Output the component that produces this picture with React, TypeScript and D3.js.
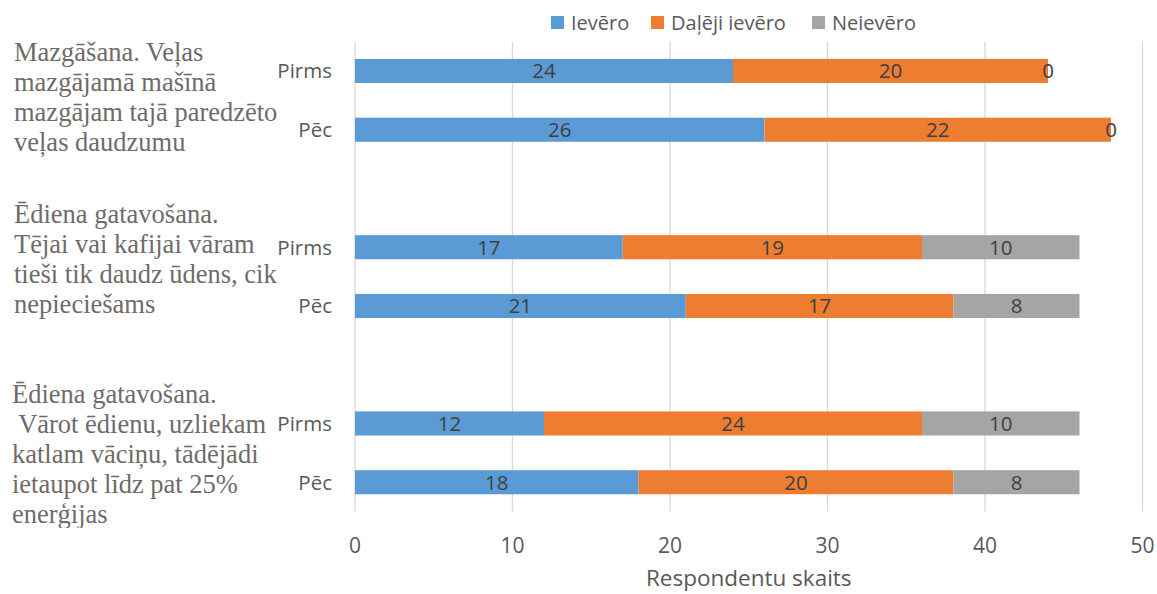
import React from "react";
import * as d3 from "d3";

const categories = ["g1-Pirms", "g1-Pēc", "gap1", "g2-Pirms", "g2-Pēc", "gap2", "g3-Pirms", "g3-Pēc"];
const stageLabels = ["Pirms", "Pēc", "", "Pirms", "Pēc", "", "Pirms", "Pēc"];
const barRows = ["g1-Pirms", "g1-Pēc", "g2-Pirms", "g2-Pēc", "g3-Pirms", "g3-Pēc"];
const ievero = [24, 26, 17, 21, 12, 18];
const dalejiIevero = [20, 22, 19, 17, 24, 20];
const neievero = [0, 0, 10, 8, 10, 8];
const seriesNames = ["Ievēro", "Daļēji ievēro", "Neievēro"];
const xTicks = [0, 10, 20, 30, 40, 50];
const group1Lines = ["Mazgāšana. Veļas", "mazgājamā mašīnā", "mazgājam tajā paredzēto", "veļas daudzumu"];
const group2Lines = ["Ēdiena gatavošana.", "Tējai vai kafijai vāram", "tieši tik daudz ūdens, cik", "nepieciešams"];
const group3Lines = ["Ēdiena gatavošana.", " Vārot ēdienu, uzliekam", "katlam vāciņu, tādējādi", "ietaupot līdz pat 25%", "enerģijas"];
const axisTitle = "Respondentu skaits";

const colors = ["#5B9BD5", "#ED7D31", "#A5A5A5"];
const sans = "'Open Sans', sans-serif";
const serif = "'Liberation Serif', 'Times New Roman', serif";

export default function App() {
  const W = 1157, H = 594;
  const x = d3.scaleLinear().domain([0, 50]).range([355, 1142.5]);
  const y = d3.scaleBand<string>().domain(categories).range([41.6, 511.6]).paddingInner(0.59).paddingOuter(0.295);
  const seriesVals = [ievero, dalejiIevero, neievero];
  const stackData = barRows.map((r, i) => ({ row: r, s0: ievero[i], s1: dalejiIevero[i], s2: neievero[i] }));
  const stack = d3.stack<any>().keys(["s0", "s1", "s2"])(stackData);

  const groupLabelBlocks = [
    { lines: group1Lines, x: 14, y0: 61 },
    { lines: group2Lines, x: 14, y0: 223 },
    { lines: group3Lines, x: 12, y0: 403 },
  ];
  const legendX = [551, 651, 812];

  return (
    <svg width={W} height={H} style={{ position: "absolute", left: 0, top: 0, background: "#fff" }}>
      <defs>
        <clipPath id="lblclip">
          <rect x={0} y={0} width={345} height={528} />
        </clipPath>
      </defs>
      {xTicks.map((t) => (
        <line key={t} x1={x(t)} x2={x(t)} y1={41.6} y2={511.6} stroke="#D9D9D9" strokeWidth={1.3} />
      ))}
      {stack.map((layer, si) => (
        <g key={si} fill={colors[si]}>
          {layer.map((d, i) => (
            <rect key={i} x={x(d[0])} y={y(barRows[i])} width={Math.max(0, x(d[1]) - x(d[0]))} height={y.bandwidth()} />
          ))}
        </g>
      ))}
      {stack.map((layer, si) => (
        <g key={"l" + si}>
          {layer.map((d, i) => (
            <text key={i} x={(x(d[0]) + x(d[1])) / 2} y={(y(barRows[i]) as number) + y.bandwidth() / 2} dy="0.36em"
              textAnchor="middle" fontFamily={sans} fontSize={20.5} fill="#404040">
              {seriesVals[si][i]}
            </text>
          ))}
        </g>
      ))}
      {categories.map((c, i) => stageLabels[i] ? (
        <text key={c} x={332} y={(y(c) as number) + y.bandwidth() / 2} dy="0.36em" textAnchor="end"
          fontFamily={sans} fontSize={20.5} fill="#595959">{stageLabels[i]}</text>
      ) : null)}
      <g clipPath="url(#lblclip)">
        {groupLabelBlocks.map((b, gi) => (
          <text key={gi} fontFamily={serif} fontSize={26.5} fill="#6F6B6B" style={{ whiteSpace: "pre" }}>
            {b.lines.map((ln, li) => (
              <tspan key={li} x={b.x} y={b.y0 + li * 30}>{ln}</tspan>
            ))}
          </text>
        ))}
      </g>
      {xTicks.map((t) => (
        <text key={"t" + t} x={x(t)} y={553} textAnchor="middle" fontFamily={sans} fontSize={21} fill="#595959">{t}</text>
      ))}
      <text x={x(25)} y={586} textAnchor="middle" fontFamily={sans} fontSize={22.5} fill="#595959">{axisTitle}</text>
      {seriesNames.map((n, i) => (
        <g key={n}>
          <rect x={legendX[i]} y={16} width={13} height={13} fill={colors[i]} />
          <text x={legendX[i] + 20} y={30} fontFamily={sans} fontSize={20} fill="#595959">{n}</text>
        </g>
      ))}
    </svg>
  );
}
